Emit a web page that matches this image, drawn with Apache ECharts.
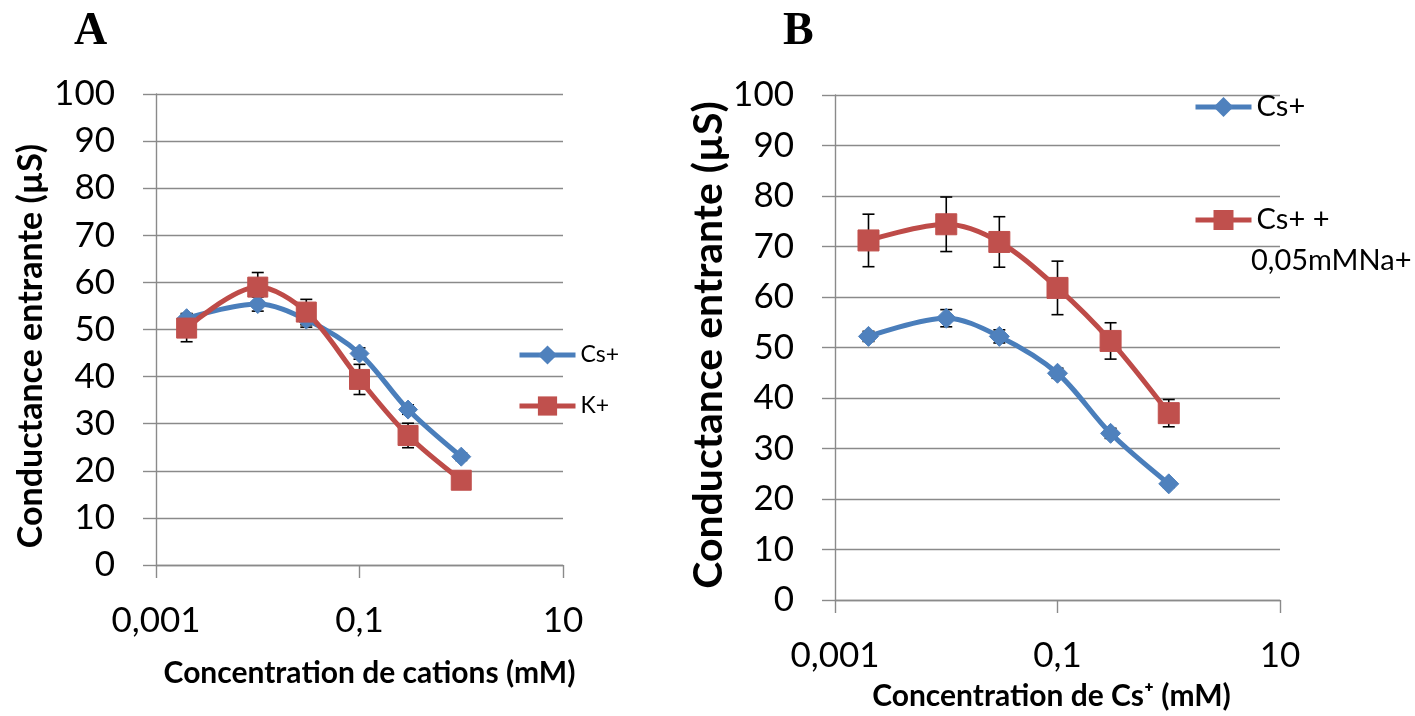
<!DOCTYPE html>
<html>
<head>
<meta charset="utf-8">
<script src="https://cdn.jsdelivr.net/npm/echarts@6/dist/echarts.min.js"></script>
<style>
html,body{margin:0;padding:0;background:#fff;}
#chart{width:1415px;height:716px;}
</style>
</head>
<body>
<div id="chart"></div>
<script>
// ---- data ----
const concentrations = [0.002, 0.01, 0.03, 0.1, 0.3, 1];
// Panel A
const csA = [52.4, 55.4, 52.1, 44.9, 33.0, 23.0];
const csAErr = [1.0, 1.5, 1.6, 1.2, 1.0, 0.8];
const kA = [50.3, 59.0, 53.7, 39.4, 27.5, 18.0];
const kAErr = [2.9, 3.1, 2.7, 3.2, 2.6, 0.8];
// Panel B
const csB = [52.2, 55.8, 52.2, 44.9, 33.0, 23.0];
const csBErr = [1.0, 1.7, 1.3, 1.0, 1.0, 0.7];
const csNaB = [71.2, 74.4, 70.9, 61.8, 51.3, 37.0];
const csNaBErr = [5.2, 5.4, 5.0, 5.3, 3.6, 2.7];

const seriesNames = ['Cs+', 'K+', 'Cs+ + 0,05mMNa+'];
const panelLabels = ['A', 'B'];
const xTitles = ['Concentration de cations (mM)', 'Concentration de Cs\u207A (mM)'];
const yTitle = 'Conductance entrante (\u00B5S)';

const BLUE = '#4A7EBB', BLUE_M = '#4F81BD';
const RED = '#BE4B48', RED_M = '#C0504D';
const GRID = '#8A8A8A';
const FONT = 'Lato';

function pts(ys) { return concentrations.map((x, i) => [x, ys[i]]); }
function errPts(ys, es) { return concentrations.map((x, i) => [x, ys[i], es[i]]); }

function fmtX(v) {
  const s = Number(Number(v).toPrecision(6));
  return String(s).replace('.', ',');
}

function errRender(params, api) {
  const x = api.value(0), y = api.value(1), e = api.value(2);
  const top = api.coord([x, y + e]);
  const bot = api.coord([x, y - e]);
  const hw = 6;
  const style = { stroke: '#000', lineWidth: 1.6 };
  return {
    type: 'group',
    children: [
      { type: 'line', shape: { x1: top[0], y1: top[1], x2: bot[0], y2: bot[1] }, style },
      { type: 'line', shape: { x1: top[0] - hw, y1: top[1], x2: top[0] + hw, y2: top[1] }, style },
      { type: 'line', shape: { x1: bot[0] - hw, y1: bot[1], x2: bot[0] + hw, y2: bot[1] }, style }
    ]
  };
}

function xAxis(idx, nameGap, pad) {
  return {
    type: 'log', logBase: 10, gridIndex: idx,
    min: 0.001, max: 10, interval: 2,
    axisLine: { show: true, lineStyle: { color: GRID, width: 1.4 } },
    axisTick: { show: true, length: 13, lineStyle: { color: GRID, width: 1.4 } },
    minorTick: { show: false },
    splitLine: { show: false },
    axisLabel: { formatter: fmtX, fontFamily: FONT, fontSize: 35, color: '#000', margin: 38 },
    name: xTitles[idx], nameLocation: 'middle', nameGap: nameGap,
    nameTextStyle: { fontFamily: FONT, fontWeight: 'bold', fontSize: 30, color: '#000', padding: pad }
  };
}

function yAxis(idx) {
  return {
    type: 'value', gridIndex: idx, min: 0, max: 100, interval: 10,
    axisLine: { show: true, lineStyle: { color: GRID, width: 1.4 } },
    axisTick: { show: true, length: 13, lineStyle: { color: GRID, width: 1.4 } },
    splitLine: { show: true, lineStyle: { color: GRID, width: 1.4 } },
    axisLabel: { fontFamily: FONT, fontSize: 35, color: '#000', margin: 41 }
  };
}

function yTitleText(x, y, fs) {
  return {
    type: 'text', x: x, y: y, rotation: Math.PI / 2,
    style: {
      text: yTitle, font: 'bold ' + fs + 'px Lato', fill: '#000',
      align: 'center', verticalAlign: 'middle',
      textAlign: 'center', textVerticalAlign: 'middle'
    }
  };
}

function lineSeries(name, data, gi, color, mcolor, symbol, size) {
  return {
    name, type: 'line', xAxisIndex: gi, yAxisIndex: gi, data,
    smooth: 0.33, symbol, symbolSize: size, z: 3,
    lineStyle: { color, width: 5 },
    itemStyle: { color: mcolor, borderColor: mcolor },
    emphasis: { disabled: true }
  };
}

function errSeries(data, gi) {
  return {
    type: 'custom', xAxisIndex: gi, yAxisIndex: gi, data,
    renderItem: errRender, z: 2, silent: true,
    encode: { x: 0, y: 1 }
  };
}

const chart = echarts.init(document.getElementById('chart'), null, { renderer: 'canvas' });
const option = {
  animation: false,
  backgroundColor: '#fff',
  grid: [
    { left: 156, top: 94, width: 407, height: 471 },
    { left: 835, top: 95, width: 445, height: 509 }
  ],
  xAxis: [xAxis(0, 93, [0, 0, 0, 20]), xAxis(1, 81, [0, 12, 0, 0])],
  yAxis: [yAxis(0), yAxis(1)],
  legend: [
    {
      data: [seriesNames[0], seriesNames[1]],
      orient: 'vertical', left: 517, top: 340, itemGap: 21, padding: 0,
      itemWidth: 56, itemHeight: 24,
      lineStyle: { width: 5 },
      textStyle: { fontFamily: FONT, fontSize: 23, color: '#000', lineHeight: 30 },
      selectedMode: false
    },
    {
      data: [seriesNames[0], seriesNames[2]],
      orient: 'vertical', left: 1193, top: 92, itemGap: 83, padding: 0,
      itemWidth: 56, itemHeight: 25,
      lineStyle: { width: 5 },
      formatter: n => n === seriesNames[2] ? 'Cs+ +' : n,
      textStyle: { fontFamily: FONT, fontSize: 29, color: '#000', lineHeight: 30 },
      selectedMode: false
    }
  ],
  graphic: [
    { type: 'text', left: 74, top: 9, style: { text: panelLabels[0], font: 'bold 46px "Liberation Serif"', fill: '#000' } },
    { type: 'text', left: 783, top: 9, style: { text: panelLabels[1], font: 'bold 46px "Liberation Serif"', fill: '#000' } },
    { type: 'text', left: 1251, top: 246, style: { text: '0,05mMNa+', font: '29px Lato', fill: '#000' } },
    yTitleText(31, 346, 34),
    yTitleText(709, 345, 41)
  ],
  series: [
    errSeries(errPts(csA, csAErr), 0),
    errSeries(errPts(kA, kAErr), 0),
    lineSeries(seriesNames[0], pts(csA), 0, BLUE, BLUE_M, 'diamond', 19),
    lineSeries(seriesNames[1], pts(kA), 0, RED, RED_M, 'rect', 20),
    errSeries(errPts(csB, csBErr), 1),
    errSeries(errPts(csNaB, csNaBErr), 1),
    lineSeries(seriesNames[0], pts(csB), 1, BLUE, BLUE_M, 'diamond', 20),
    lineSeries(seriesNames[2], pts(csNaB), 1, RED, RED_M, 'rect', 21)
  ]
};
chart.setOption(option);
</script>
</body>
</html>
